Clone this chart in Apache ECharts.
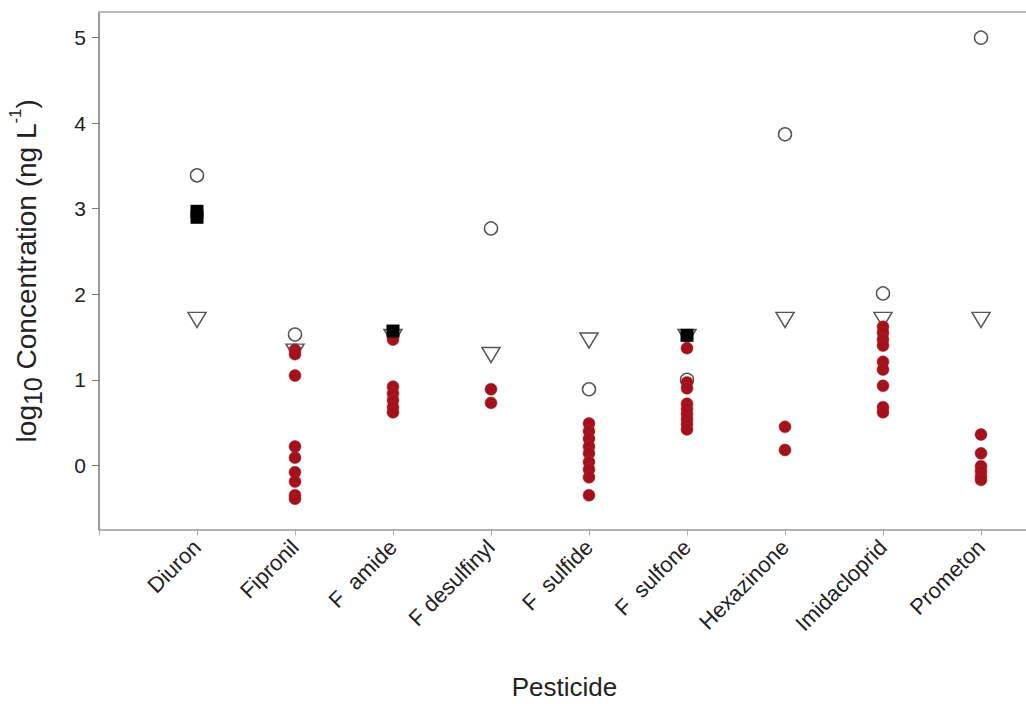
<!DOCTYPE html>
<html><head><meta charset="utf-8">
<script src="https://cdn.jsdelivr.net/npm/echarts@6/dist/echarts.min.js"></script>
<style>html,body{margin:0;padding:0;background:#fff}#c{width:1026px;height:704px}</style>
</head><body><div id="c"></div>
<script>
const categories = ['Diuron', 'Fipronil', 'F  amide', 'F desulfinyl', 'F  sulfide', 'F  sulfone', 'Hexazinone', 'Imidacloprid', 'Prometon'];
const yTicks = [0, 1, 2, 3, 4, 5];
const xTicks = [0, 1, 2, 3, 4, 5, 6, 7, 8, 9];
const xLabelTicks = [1, 2, 3, 4, 5, 6, 7, 8, 9];

// open circles
const circleValues = [[3.39], [1.53], [], [2.77], [0.89], [1.00], [3.87], [2.01], [5.00]];
// open down-triangles
const triangleValues = [[1.70], [1.33], [1.50], [1.29], [1.46], [1.50], [1.70], [1.70], [1.70]];
// black squares
const squareValues = [[2.97, 2.90], [], [1.57], [], [], [1.52], [], [], []];
// red filled circles
const redValues = [
  [],
  [1.35, 1.30, 1.05, 0.22, 0.09, -0.08, -0.19, -0.35, -0.39],
  [1.47, 0.92, 0.84, 0.76, 0.68, 0.62],
  [0.89, 0.73],
  [0.49, 0.40, 0.31, 0.22, 0.14, 0.04, -0.05, -0.14, -0.35],
  [1.37, 0.97, 0.90, 0.72, 0.66, 0.60, 0.54, 0.48, 0.42],
  [0.45, 0.18],
  [1.62, 1.55, 1.47, 1.40, 1.21, 1.12, 0.93, 0.68, 0.62],
  [0.36, 0.14, -0.01, -0.07, -0.13, -0.17]
];

const toPoints = lists => lists.flatMap((vals, i) => vals.map(v => [i + 1, v]));
const FONT = 'Liberation Sans, Arial, sans-serif';

const chart = echarts.init(document.getElementById('c'), null, {renderer: 'svg'});
chart.setOption({
  backgroundColor: '#fff',
  animation: false,
  grid: {left: 99, top: 12, width: 931, height: 517.5, containLabel: false, outerBoundsMode: 'none'},
  xAxis: [{
    type: 'value', min: 0, max: 9.5,
    name: 'Pesticide', nameLocation: 'middle', nameGap: 144,
    nameTextStyle: {fontSize: 26, color: '#222', fontFamily: FONT},
    splitLine: {show: false},
    axisLine: {show: true, onZero: false, lineStyle: {color: '#999', width: 1.5}},
    axisTick: {show: true, length: 6, lineStyle: {color: '#aaa'}, customValues: xTicks},
    axisLabel: {
      rotate: 45, margin: 14, fontSize: 22, color: '#222', fontFamily: FONT,
      customValues: xLabelTicks,
      formatter: v => categories[Math.round(v) - 1] || ''
    }
  }, {
    type: 'value', min: 0, max: 9.5, position: 'top',
    axisLine: {show: true, onZero: false, lineStyle: {color: '#bbb', width: 2}},
    axisTick: {show: false}, axisLabel: {show: false}, splitLine: {show: false}
  }],
  yAxis: {
    type: 'value', min: -0.75, max: 5.3,
    name: '{n|log}{sub|10}{n| Concentration (ng L}{sup|-1}{n|)}',
    nameLocation: 'middle', nameGap: 54,
    nameTextStyle: {
      fontSize: 28, color: '#222', fontFamily: FONT,
      rich: {
        n: {fontSize: 28, lineHeight: 38, fontFamily: FONT, color: '#222'},
        sub: {fontSize: 25, lineHeight: 25, verticalAlign: 'bottom', fontFamily: FONT, color: '#222'},
        sup: {fontSize: 17, lineHeight: 17, verticalAlign: 'top', fontFamily: FONT, color: '#222'}
      }
    },
    splitLine: {show: false},
    axisLine: {show: true, onZero: false, lineStyle: {color: '#777', width: 1.5}},
    axisTick: {show: true, length: 7, lineStyle: {color: '#777'}, customValues: yTicks},
    axisLabel: {fontSize: 21, color: '#222', fontFamily: FONT, margin: 13, customValues: yTicks}
  },
  series: [
    {
      name: 'Triangles', type: 'scatter', data: toPoints(triangleValues),
      symbol: 'triangle', symbolRotate: 180, symbolSize: [18, 15],
      itemStyle: {color: '#fff', borderColor: '#555', borderWidth: 1.5, opacity: 1}, z: 2
    },
    {
      name: 'Circles', type: 'scatter', data: toPoints(circleValues),
      symbol: 'circle', symbolSize: 13,
      itemStyle: {color: '#fff', borderColor: '#555', borderWidth: 1.5, opacity: 1}, z: 3
    },
    {
      name: 'Detected', type: 'scatter', data: toPoints(redValues),
      symbol: 'circle', symbolSize: 12,
      itemStyle: {color: '#a3121c', borderColor: '#b3262d', borderWidth: 0.5, opacity: 1}, z: 4
    },
    {
      name: 'Squares', type: 'scatter', data: toPoints(squareValues),
      symbol: 'rect', symbolSize: 13,
      itemStyle: {color: '#000', opacity: 1}, z: 5
    }
  ]
});
</script></body></html>
